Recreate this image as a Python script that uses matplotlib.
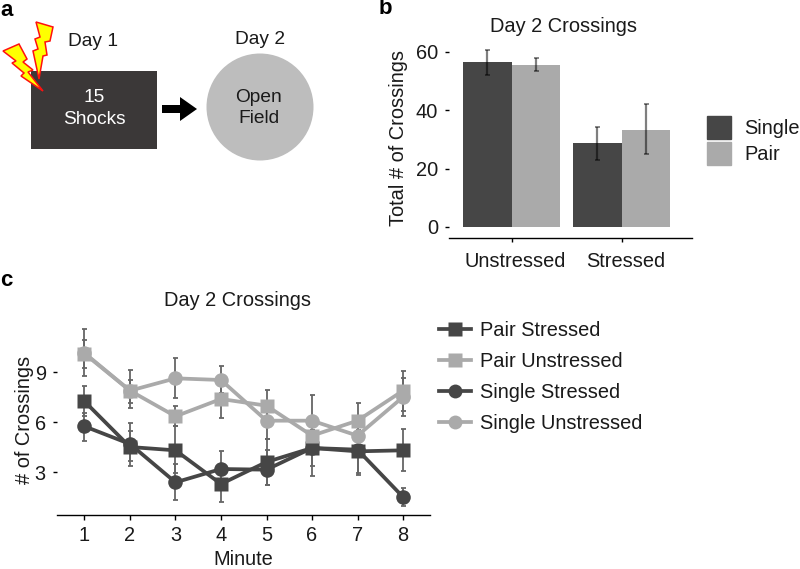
import matplotlib
matplotlib.use("Agg")
import matplotlib.pyplot as plt
from matplotlib.patches import Rectangle, Circle, Polygon, FancyArrow, Patch
from matplotlib.lines import Line2D
from matplotlib.transforms import ScaledTranslation
import numpy as np

plt.rcParams['font.family'] = ['Liberation Sans', 'DejaVu Sans']
W, H = 800, 569
FS = 14.4
FS_A = 13.8

# panel b data
conditions = ['Unstressed', 'Stressed']
single_total = [56.4, 28.7]
pair_total = [55.5, 33.2]
single_total_lo = [52.0, 23.0]
single_total_hi = [60.5, 34.2]
pair_total_lo = [53.4, 25.0]
pair_total_hi = [57.7, 42.1]

# panel c data
minutes = [1, 2, 3, 4, 5, 6, 7, 8]
pair_stressed = [7.24, 4.5, 4.3, 2.28, 3.6, 4.44, 4.24, 4.3]
pair_stressed_lo = [6.34, 3.34, 2.94, 1.18, 2.24, 3.34, 2.94, 3.04]
pair_stressed_hi = [8.18, 5.94, 5.74, 3.34, 4.98, 5.54, 5.54, 5.58]
pair_unstressed = [10.1, 7.88, 6.34, 7.38, 6.98, 5.18, 6.08, 7.88]
pair_unstressed_lo = [9.24, 7.14, 5.74, 6.24, 5.94, 4.14, 5.04, 6.64]
pair_unstressed_hi = [10.9, 8.54, 6.94, 8.54, 7.94, 6.14, 7.14, 9.04]
single_stressed = [5.74, 4.68, 2.38, 3.18, 3.14, 4.44, 4.34, 1.5]
single_stressed_lo = [4.84, 3.64, 1.34, 2.14, 2.24, 2.74, 2.8, 0.94]
single_stressed_hi = [6.54, 5.44, 3.5, 4.28, 4.34, 5.54, 5.74, 2.04]
single_unstressed = [10.14, 7.88, 8.62, 8.52, 6.08, 6.08, 5.18, 7.5]
single_unstressed_lo = [8.74, 6.84, 7.44, 7.74, 4.98, 4.54, 4.14, 6.34]
single_unstressed_hi = [11.58, 9.14, 9.82, 9.34, 7.14, 7.64, 6.34, 8.64]

DARK = '#464646'
LIGHT = '#aaaaaa'
INK = '#1a1a1a'

fig = plt.figure(figsize=(W / 100, H / 100), dpi=100)


def box(x0, y0, x1, y1):
    return [x0 / W, 1 - y1 / H, (x1 - x0) / W, (y1 - y0) / H]


def ftext(x, y, s, **kw):
    kw.setdefault('fontsize', FS)
    kw.setdefault('ha', 'center')
    kw.setdefault('va', 'center')
    kw.setdefault('color', INK)
    fig.text(x / W, 1 - y / H, s, **kw)


# ---- panel a: diagram in pixel coordinates, kept beneath the figure texts
ov = fig.add_axes([0, 0, 1, 1], zorder=-1)
ov.set_xlim(0, W)
ov.set_ylim(H, 0)
ov.axis('off')
ov.add_patch(Rectangle((31, 71), 126, 78, fc='#3b3838', ec='none'))
ov.add_patch(Circle((260, 107), 53.5, fc='#bdbdbd', ec='none'))
ov.add_patch(FancyArrow(162, 109, 35, 0, width=8, head_width=24, head_length=17,
                        length_includes_head=True, fc='black', ec='none'))
bolt_a = [(3, 51), (19, 44), (27, 59), (23, 62), (33, 70), (28, 72), (43, 91),
          (21, 76), (24, 73), (12, 63), (16, 61)]
bolt_b = [(36, 22), (53, 27), (50, 41), (45, 42), (47, 55), (43, 56), (39, 79),
          (33, 51), (38, 49), (35, 39), (40, 37)]
for bolt in (bolt_a, bolt_b):
    ov.add_patch(Polygon(bolt, closed=True, fc='#ffff00', ec='#ff1010', lw=1.1))

ftext(93, 41, 'Day 1', fontsize=FS_A)
ftext(260, 39, 'Day 2', fontsize=FS_A)
ftext(94, 98, '15', color='white', fontsize=FS_A)
ftext(94, 120, 'Shocks', color='white', fontsize=FS_A)
ftext(259, 97, 'Open', fontsize=FS_A)
ftext(259, 119, 'Field', fontsize=FS_A)
ftext(0, 11, 'a', fontsize=16, fontweight='bold', ha='left', color='black')
ftext(379, 9, 'b', fontsize=16, fontweight='bold', ha='left', color='black')
ftext(0, 280, 'c', fontsize=16, fontweight='bold', ha='left', color='black')

# ---- panel b
ax = fig.add_axes(box(449, 40, 692, 237.5))
xpos = np.arange(len(conditions))
bw = 0.443
ax.bar(xpos - bw / 2, single_total, bw, color=DARK)
ax.bar(xpos + bw / 2, pair_total, bw, color=LIGHT)
for offs, mean, lo, hi in ((-bw / 2, single_total, single_total_lo, single_total_hi),
                           (bw / 2, pair_total, pair_total_lo, pair_total_hi)):
    m, l, h = map(np.array, (mean, lo, hi))
    ax.errorbar(xpos + offs, m, yerr=[m - l, h - m], fmt='none', ecolor=(0, 0, 0, 0.5),
                elinewidth=1.6, capsize=1.8, capthick=1.3)
ax.set_xlim(-0.568, 1.64)
ax.set_ylim(-3.6, 64.0)
ax.set_xticks(xpos, conditions)
ax.set_yticks([0, 20, 40, 60])
ax.tick_params(axis='x', length=3, width=1, pad=7.5, labelsize=FS, labelcolor=INK)
ax.tick_params(axis='y', length=3, width=1, pad=5, labelsize=FS, labelcolor=INK)
shift = ScaledTranslation(4 / 100, 0, fig.dpi_scale_trans)
for lab in ax.get_xticklabels():
    lab.set_transform(lab.get_transform() + shift)
for s in ('top', 'right', 'left'):
    ax.spines[s].set_visible(False)
ax.spines['bottom'].set_linewidth(1)
ax.patch.set_alpha(0)
ftext(564, 26, 'Day 2 Crossings')
ftext(399, 138, 'Total # of Crossings', rotation=90)

fig.legend(handles=[Patch(color=DARK, label='Single'), Patch(color=LIGHT, label='Pair')],
           loc='upper left', bbox_to_anchor=(707 / W, 1 - 116 / H), frameon=False,
           borderpad=0, borderaxespad=0, handlelength=1.2, handleheight=1.38,
           handletextpad=0.65, labelspacing=0.15, fontsize=FS, labelcolor=INK)

# ---- panel c
axc = fig.add_axes(box(57, 315, 430, 515))
series = [
    (pair_stressed, pair_stressed_lo, pair_stressed_hi, DARK, 's', 'Pair Stressed'),
    (pair_unstressed, pair_unstressed_lo, pair_unstressed_hi, LIGHT, 's', 'Pair Unstressed'),
    (single_stressed, single_stressed_lo, single_stressed_hi, DARK, 'o', 'Single Stressed'),
    (single_unstressed, single_unstressed_lo, single_unstressed_hi, LIGHT, 'o', 'Single Unstressed'),
]
handles = []
for mean, lo, hi, col, mk, lab in series:
    m, l, h = map(np.array, (mean, lo, hi))
    axc.errorbar(minutes, m, yerr=[m - l, h - m], fmt='none', ecolor='#666666',
                 elinewidth=1.3, capsize=1.8, capthick=1.3, zorder=2)
    z = 3 if col == DARK else 4
    axc.plot(minutes, m, color=col, lw=2.7, marker=mk, ms=10.5, mec='none', zorder=z)
    handles.append(Line2D([], [], color=col, lw=2.7, marker=mk, ms=10, mec='none', label=lab))
axc.set_xlim(0.396, 8.593)
axc.set_ylim(0.42, 12.42)
axc.set_xticks(minutes)
axc.set_yticks([3, 6, 9])
axc.tick_params(axis='x', length=3.5, width=1, pad=4.5, labelsize=FS, labelcolor=INK)
axc.tick_params(axis='y', length=3, width=1, pad=5, labelsize=FS, labelcolor=INK)
for s in ('top', 'right', 'left'):
    axc.spines[s].set_visible(False)
axc.spines['bottom'].set_linewidth(1)
axc.patch.set_alpha(0)
ftext(237, 300, 'Day 2 Crossings')
ftext(243, 559.5, 'Minute')
ftext(25, 420, '# of Crossings', rotation=90)

fig.legend(handles=handles, loc='upper left', bbox_to_anchor=(439 / W, 1 - 321 / H),
           frameon=False, borderpad=0, borderaxespad=0, handlelength=1.6,
           handletextpad=0.45, labelspacing=0.6, fontsize=FS, labelcolor=INK)

fig.savefig('out.png', dpi=100, facecolor='white')
